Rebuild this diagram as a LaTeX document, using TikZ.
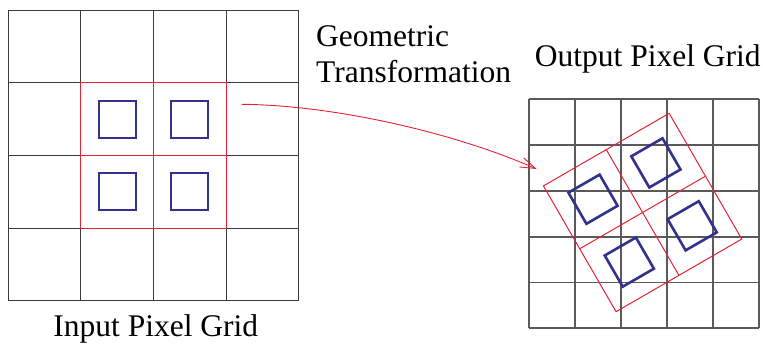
\documentclass[tikz,border=0pt]{standalone}
\usepackage{fontspec}
\setmainfont{Liberation Serif}
\usepackage{tikz}
\usetikzlibrary{arrows.meta}
\definecolor{myred}{RGB}{226,35,52}
\definecolor{myblue}{RGB}{50,50,140}
\definecolor{mygrid}{RGB}{60,60,60}
\definecolor{mygridb}{RGB}{90,90,90}
\tikzset{
  gridline/.style={draw=mygrid, line width=1pt},
  gridbold/.style={draw=mygridb, line width=1.7pt},
  redline/.style={draw=myred, line width=1pt},
  bluebox/.style={draw=myblue, line width=1.9pt},
  bluebold/.style={draw=myblue, line width=2.6pt},
  titletext/.style={font=\fontsize{31.5}{36}\selectfont, inner sep=0pt},
  maparrow/.style={-{Straight Barb[length=15pt,width=10pt]}, draw=myred, line width=0.9pt}
}

\begin{document}
\begin{tikzpicture}[x=1pt, y=-1pt]
  \useasboundingbox (0,0) rectangle (763,344);

  % Input pixel grid
  \foreach \i in {0,...,4} {
    \draw[gridline] (8.3+72.6*\i,10.3) -- (8.3+72.6*\i,300.7);
    \draw[gridline] (8.3,10.3+72.6*\i) -- (298.7,10.3+72.6*\i);
  }
  % Red block and blue pixels (input)
  \draw[redline] (80.9,82.9) rectangle (226.1,228.1);
  \draw[redline] (153.5,82.9) -- (153.5,228.1) (80.9,155.5) -- (226.1,155.5);
  \foreach \cx/\cy in {117.4/119.2, 189.8/119.2, 117.4/191.8, 189.8/191.8} {
    \draw[bluebox] (\cx-18.5,\cy-18.5) rectangle (\cx+18.5,\cy+18.5);
  }
  \node[titletext, anchor=base] (intitle) at (155.8,336.8) {Input Pixel Grid};

  % Output pixel grid
  \foreach \i in {0,...,5} {
    \draw[gridbold] (528.7+46.12*\i,99.3) -- (528.7+46.12*\i,328.3);
    \draw[gridbold] (528.7,99.3+45.8*\i) -- (759.3,99.3+45.8*\i);
  }
  % Rotated block (output)
  \begin{scope}[shift={(642.6,212.5)}, rotate=30]
    \draw[redline] (-72.6,-72.6) rectangle (72.6,72.6);
    \draw[redline] (0,-72.6) -- (0,72.6) (-72.6,0) -- (72.6,0);
    \foreach \dx/\dy in {-36.3/-36.3, 36.3/-36.3, -36.3/36.3, 36.3/36.3} {
      \draw[bluebold] (\dx-18,\dy-18) rectangle (\dx+18,\dy+18);
    }
  \end{scope}
  \node[titletext, anchor=base] (outtitle) at (647.8,67) {Output Pixel Grid};

  % Transformation arrow
  \node[titletext, anchor=base west] (geomtxt) at (316,46.7) {Geometric};
  \node[titletext, anchor=base west] (transtxt) at (316,82.9) {Transformation};
  \coordinate (arrstart) at (241.7,104.3);
  \coordinate (arrend) at (536.7,169);
  \draw[maparrow] (arrstart) .. controls (330,105) and (450,131) .. (arrend);
\end{tikzpicture}
\end{document}
